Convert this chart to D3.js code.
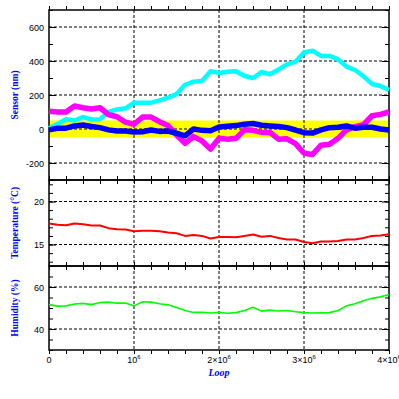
<html>
  <head>
    <meta charset="utf-8">
    <script src="https://d3js.org/d3.v7.min.js"></script>
  <style>
    body { margin: 0; background: #fff; }
    .tick text { font-family: "Liberation Sans", Arial, sans-serif; font-size: 9px; fill: black; }
    .axis-title { font-family: "Liberation Serif", serif; font-size: 9.5px; font-weight: bold; fill: #0000ff; }
    .grid line { stroke: black; stroke-width: 1; stroke-dasharray: 3,2; }
  </style>
  </head>

  <body>
    <svg id="mainSVG" width="399" height="399"></svg>
  </body>

  <script>
      // loop counter, in units of 10^5 loops
      const loopK = [0,1,2,3,4,5,6,7,8,9,10,11,12,13,14,15,16,17,18,19,20,
                     21,22,23,24,25,26,27,28,29,30,31,32,33,34,35,36,37,38,39,40];

      // sensor readings (nm)
      const sensorCyan = [5,30,57,50,70,56,58,100,115,122,155,155,155,168,185,205,260,278,283,340,
                          330,337,340,312,300,335,322,350,380,396,450,460,430,430,410,367,347,310,265,253,230];
      const sensorMagenta = [105,100,100,135,125,118,125,85,72,40,28,70,70,43,20,-35,-84,-45,-70,-118,
                             -55,-60,-55,-5,-8,-20,-20,-60,-58,-86,-143,-150,-95,-90,-55,-5,14,25,78,86,100];
      const sensorBlue = [-5,4,5,18,24,15,8,-5,-12,-12,-18,-16,-6,-14,-12,-25,-40,0,-8,-10,
                          12,16,20,28,32,22,18,15,8,-6,-22,-24,-5,8,10,18,5,10,10,0,-6];
      const toleranceBand = [-50, 50];

      // temperature (C)
      const temperature = [17.44,17.3,17.24,17.44,17.35,17.2,17.2,16.9,16.78,16.75,16.55,16.6,16.6,16.55,16.4,16.3,16.0,16.1,16.0,15.7,
                           15.88,15.88,15.85,16.0,16.16,15.9,16.0,15.75,15.58,15.58,15.3,15.15,15.35,15.35,15.4,15.58,15.58,15.75,16.0,16.05,16.2];

      // humidity (%)
      const humidity = [51.6,50.9,51.0,51.9,52.2,51.6,52.6,52.8,52.3,52.4,51.0,53.0,52.8,52.0,51.5,50.2,48.8,47.9,48.0,47.6,
                        48.0,47.5,47.8,48.8,50.4,48.5,49.0,48.6,48.8,48.2,47.8,47.6,47.7,47.8,48.8,51.0,52.0,53.5,54.6,55.3,56.4];

      const loops = loopK.map(k => k * 1e5);

      const svg = d3.select("#mainSVG");
      const left = 49, right = 389;

      const xScale = d3.scaleLinear().domain([0, 4e6]).range([left, right]);

      const panels = [
        { title: "Sensor (nm)", top: 10, bottom: 180, domain: [-300, 700], major: 5, minor: 10 },
        { title: "Temperature (\u00B0C)", top: 180, bottom: 266, domain: [12.5, 22.5], major: 2, minor: 10 },
        { title: "Humidity (%)", top: 266, bottom: 350, domain: [30, 70], major: 2, minor: 8 }
      ];
      panels.forEach(p => {
        p.y = d3.scaleLinear().domain(p.domain).range([p.bottom, p.top]);
      });

      // yellow tolerance band in sensor panel
      const ys = panels[0].y;
      svg.append("rect")
        .attr("x", left)
        .attr("width", right - left)
        .attr("y", ys(toleranceBand[1]))
        .attr("height", ys(toleranceBand[0]) - ys(toleranceBand[1]))
        .attr("fill", "#ffff00");

      // grids and axes
      panels.forEach((p, i) => {
        const h = p.bottom - p.top;
        const w = right - left;
        const g = svg.append("g");

        // gridlines
        g.append("g").attr("class", "grid")
          .selectAll("line")
          .data(p.y.ticks(p.major))
          .join("line")
          .attr("x1", left).attr("x2", right)
          .attr("y1", d => p.y(d)).attr("y2", d => p.y(d));
        g.append("g").attr("class", "grid")
          .selectAll("line")
          .data(xScale.ticks(4).filter(d => d > 0 && d < 4e6))
          .join("line")
          .attr("x1", d => xScale(d)).attr("x2", d => xScale(d))
          .attr("y1", p.top).attr("y2", p.bottom);

        // minor ticks all sides
        const sides = [
          [d3.axisLeft(p.y).ticks(p.minor), `translate(${left},0)`],
          [d3.axisRight(p.y).ticks(p.minor), `translate(${right},0)`],
          [d3.axisTop(xScale).ticks(20), `translate(0,${p.bottom})`],
          [d3.axisBottom(xScale).ticks(20), `translate(0,${p.top})`]
        ];
        sides.forEach(([ax, tr]) => {
          g.append("g").attr("transform", tr)
            .call(ax.tickSize(-4).tickSizeOuter(0).tickFormat(""))
            .call(s => s.select(".domain").remove())
            .selectAll("line").attr("stroke", "black").attr("stroke-width", 1);
        });

        // major ticks + labels on left
        g.append("g").attr("transform", `translate(${left},0)`)
          .call(d3.axisLeft(p.y).ticks(p.major).tickSize(-7).tickSizeOuter(0).tickPadding(5)
                  .tickFormat(d => String(d)))
          .call(s => s.select(".domain").remove())
          .call(s => s.selectAll("line").attr("stroke", "black"))
          .call(s => s.selectAll("text").attr("dy", "0.35em"));
        g.append("g").attr("transform", `translate(${right},0)`)
          .call(d3.axisRight(p.y).ticks(p.major).tickSize(-7).tickSizeOuter(0).tickFormat(""))
          .call(s => s.select(".domain").remove())
          .selectAll("line").attr("stroke", "black");

        // frame
        g.append("rect")
          .attr("x", left).attr("y", p.top)
          .attr("width", w).attr("height", h)
          .attr("fill", "none").attr("stroke", "black").attr("stroke-width", 1.5);

        // axis title
        svg.append("text")
          .attr("class", "axis-title")
          .attr("transform", `translate(18,${(p.top + p.bottom) / 2}) rotate(-90)`)
          .attr("text-anchor", "middle")
          .text(p.title);
      });

      // x tick labels on bottom panel
      const xl = svg.append("g").attr("transform", `translate(0,${panels[2].bottom})`);
      xl.selectAll("text")
        .data(xScale.ticks(4))
        .join("text")
        .attr("x", d => xScale(d))
        .attr("y", 13)
        .attr("text-anchor", "middle")
        .style("font-family", "Liberation Sans, Arial, sans-serif")
        .style("font-size", "9px")
        .each(function(d) {
          const t = d3.select(this);
          const m = d / 1e6;
          if (m === 0) { t.text("0"); return; }
          t.append("tspan").text(m === 1 ? "10" : `${m}\u00D710`);
          t.append("tspan").attr("dy", -4).style("font-size", "6px").text("6");
        });

      svg.append("text")
        .attr("x", xScale(2e6))
        .attr("y", 376)
        .attr("text-anchor", "middle")
        .style("font-family", "Liberation Serif, serif")
        .style("font-size", "10px")
        .style("font-weight", "bold")
        .style("font-style", "italic")
        .style("fill", "#0000ff")
        .text("Loop");

      // data lines
      const series = [
        { values: sensorCyan, panel: 0, color: "#00ffff", width: 4.5 },
        { values: sensorMagenta, panel: 0, color: "#ff00ff", width: 5.5 },
        { values: sensorBlue, panel: 0, color: "#0000ff", width: 5.5 },
        { values: temperature, panel: 1, color: "#ff0000", width: 2 },
        { values: humidity, panel: 2, color: "#00ff00", width: 1.6 }
      ];

      series.forEach(s => {
        const y = panels[s.panel].y;
        const line = d3.line()
          .x((d, i) => xScale(loops[i]))
          .y(d => y(d));
        svg.append("path")
          .datum(s.values)
          .attr("d", line)
          .attr("fill", "none")
          .attr("stroke", s.color)
          .attr("stroke-width", s.width)
          .attr("stroke-linejoin", "round");
      });
  </script>
</html>
